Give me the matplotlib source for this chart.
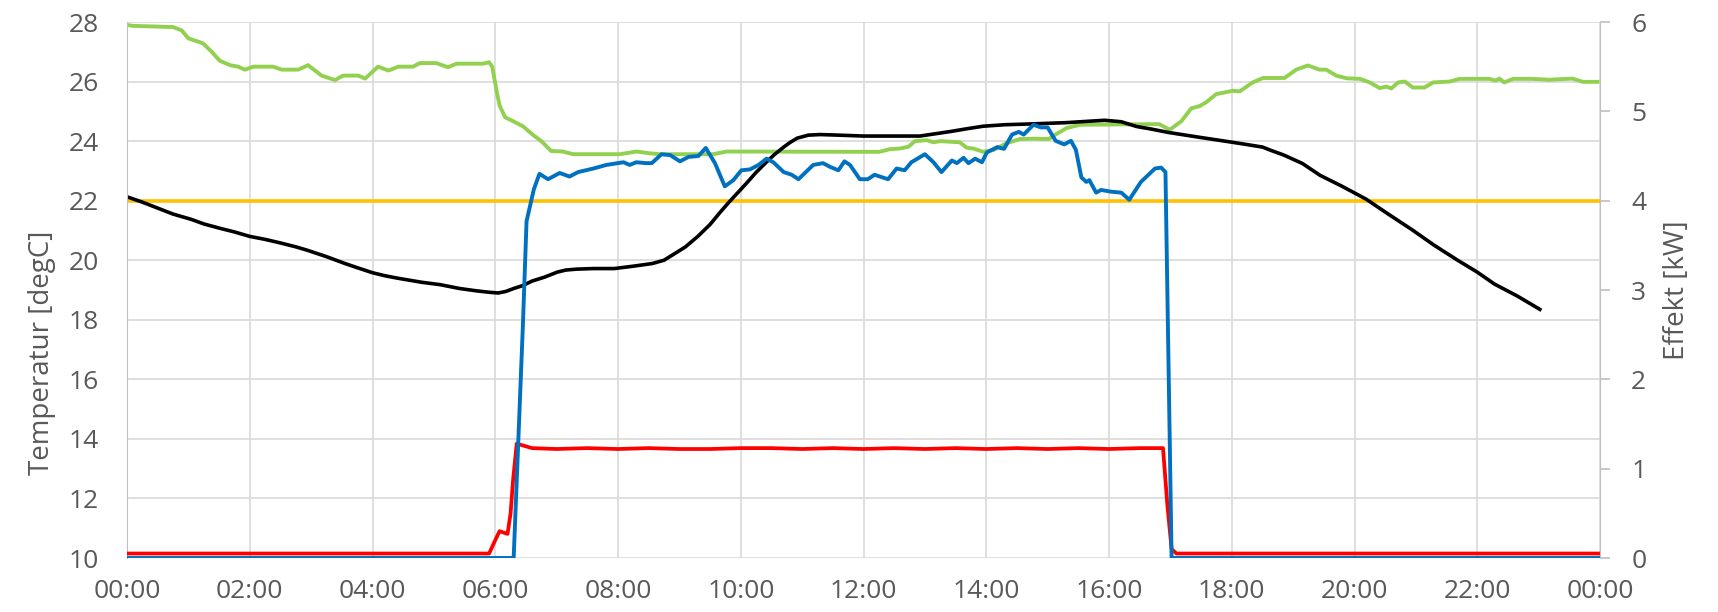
import matplotlib
matplotlib.use('Agg')
import matplotlib.pyplot as plt

plt.rcParams['font.family'] = ['Open Sans', 'DejaVu Sans']

# ---------------------------------------------------------------------------
# Data (hours of the day)
# ---------------------------------------------------------------------------
x_ticks = [0, 2, 4, 6, 8, 10, 12, 14, 16, 18, 20, 22, 24]
x_labels = ['00:00', '02:00', '04:00', '06:00', '08:00', '10:00', '12:00',
            '14:00', '16:00', '18:00', '20:00', '22:00', '00:00']

# green temperature [degC]
green_h = [0, 0.1, 0.75, 0.89, 1.0, 1.19, 1.24, 1.38, 1.51, 1.68, 1.81, 1.92, 2.06,
           2.38, 2.52, 2.79, 2.95, 3.17, 3.39, 3.52, 3.77, 3.88, 4.09, 4.26, 4.42,
           4.66, 4.77, 5.04, 5.23, 5.37, 5.8, 5.9, 5.95, 6.03, 6.07, 6.16, 6.29,
           6.45, 6.62, 6.75, 6.91, 7.1, 7.27, 8.03, 8.3, 8.52, 8.68, 9.55, 9.77,
           12.26, 12.43, 12.59, 12.73, 12.84, 13.03, 13.14, 13.25, 13.57, 13.68,
           13.79, 13.95, 14.12, 14.33, 14.55, 14.77, 15.02, 15.12, 15.31, 15.53,
           16.82, 16.99, 17.18, 17.34, 17.48, 17.58, 17.75, 18.02, 18.13, 18.34,
           18.51, 18.86, 19.05, 19.24, 19.43, 19.54, 19.7, 19.87, 20.09, 20.25,
           20.41, 20.52, 20.6, 20.71, 20.82, 20.95, 21.14, 21.28, 21.55, 21.71,
           22.2, 22.3, 22.36, 22.44, 22.58, 22.9, 23.17, 23.55, 23.72, 23.96]
green_t = [27.9, 27.87, 27.83, 27.72, 27.45, 27.32, 27.28, 27.0, 26.7, 26.55, 26.5, 26.4, 26.5,
           26.5, 26.4, 26.4, 26.55, 26.2, 26.05, 26.2, 26.2, 26.1, 26.5, 26.37, 26.5,
           26.5, 26.62, 26.62, 26.48, 26.6, 26.6, 26.65, 26.5, 25.6, 25.2, 24.8, 24.67,
           24.5, 24.2, 24.0, 23.67, 23.65, 23.56, 23.56, 23.65, 23.59, 23.56, 23.56, 23.65,
           23.64, 23.73, 23.75, 23.81, 24.0, 24.03, 23.96, 24.0, 23.96, 23.78,
           23.75, 23.64, 23.7, 23.93, 24.07, 24.08, 24.07, 24.21, 24.44, 24.55,
           24.57, 24.38, 24.67, 25.1, 25.18, 25.3, 25.58, 25.69, 25.67, 25.97,
           26.12, 26.12, 26.4, 26.54, 26.4, 26.4, 26.2, 26.11, 26.09, 25.97,
           25.78, 25.83, 25.77, 25.97, 26.0, 25.8, 25.8, 25.97, 26.0, 26.09,
           26.09, 26.03, 26.1, 25.97, 26.09, 26.09, 26.06, 26.1, 25.99, 25.99]

# black temperature [degC]
black_h = [0, 0.25, 0.5, 0.75, 1.05, 1.25, 1.5, 1.75, 2.0, 2.25, 2.5, 2.75, 2.93,
           3.25, 3.55, 3.75, 4.0, 4.2, 4.4, 4.6, 4.8, 5.1, 5.42, 5.7, 5.92, 6.05,
           6.17, 6.3, 6.45, 6.6, 6.8, 7.01, 7.15, 7.32, 7.6, 7.94, 8.25, 8.56,
           8.75, 8.93, 9.1, 9.3, 9.5, 9.66, 9.8, 10.1, 10.25, 10.42, 10.55, 10.7,
           10.8, 10.92, 11.1, 11.29, 11.6, 12.0, 12.5, 12.92, 13.41, 13.7, 13.95,
           14.3, 14.77, 15.3, 15.93, 16.2, 16.45, 16.7, 16.97, 17.5, 17.95, 18.2,
           18.5, 18.65, 18.85, 19.15, 19.44, 19.8, 20.19, 20.55, 20.94, 21.3,
           21.68, 22.0, 22.28, 22.65, 23.02]
black_t = [22.13, 21.95, 21.75, 21.55, 21.37, 21.22, 21.08, 20.95, 20.8, 20.7, 20.58, 20.45, 20.34,
           20.12, 19.89, 19.75, 19.58, 19.48, 19.4, 19.33, 19.26, 19.18, 19.05, 18.97, 18.92, 18.9,
           18.95, 19.05, 19.15, 19.3, 19.43, 19.6, 19.67, 19.7, 19.72, 19.72, 19.8, 19.89,
           20.0, 20.23, 20.45, 20.8, 21.2, 21.6, 21.93, 22.6, 22.95, 23.3, 23.55, 23.8,
           23.95, 24.1, 24.2, 24.22, 24.2, 24.17, 24.17, 24.17, 24.32, 24.42, 24.5,
           24.55, 24.58, 24.62, 24.7, 24.65, 24.49, 24.4, 24.29, 24.12, 23.98, 23.9,
           23.8, 23.68, 23.53, 23.25, 22.85, 22.48, 22.05, 21.55, 21.02, 20.5,
           20.0, 19.6, 19.2, 18.8, 18.35]

# yellow set point [degC]
setp_h = [0, 24]
setp_t = [22, 22]

# blue power [kW]
blue_h = [0, 6.3, 6.45, 6.51, 6.63, 6.72, 6.86, 7.05, 7.21, 7.35, 7.6, 7.81, 8.09,
          8.19, 8.3, 8.46, 8.55, 8.71, 8.85, 9.01, 9.15, 9.31, 9.43, 9.58, 9.74,
          9.88, 10.01, 10.15, 10.29, 10.42, 10.53, 10.7, 10.83, 10.94, 11.18, 11.34,
          11.45, 11.59, 11.69, 11.78, 11.94, 12.07, 12.18, 12.4, 12.54, 12.67, 12.78,
          13.0, 13.14, 13.27, 13.44, 13.52, 13.63, 13.71, 13.82, 13.93, 14.01, 14.18,
          14.29, 14.42, 14.53, 14.61, 14.77, 14.89, 15.0, 15.13, 15.27, 15.38, 15.46,
          15.55, 15.63, 15.68, 15.79, 15.87, 16.04, 16.2, 16.33, 16.52, 16.75, 16.85,
          16.92, 17.02, 24]
blue_kw = [0, 0, 2.6, 3.77, 4.13, 4.3, 4.24, 4.31, 4.27, 4.32, 4.36, 4.4, 4.43,
           4.4, 4.43, 4.42, 4.42, 4.52, 4.51, 4.44, 4.49, 4.5, 4.59, 4.42, 4.16,
           4.23, 4.34, 4.35, 4.4, 4.47, 4.43, 4.32, 4.29, 4.24, 4.4, 4.42,
           4.38, 4.34, 4.44, 4.4, 4.24, 4.24, 4.29, 4.24, 4.36, 4.34, 4.43,
           4.52, 4.43, 4.32, 4.45, 4.42, 4.48, 4.42, 4.47, 4.43, 4.54, 4.6,
           4.58, 4.74, 4.77, 4.74, 4.85, 4.82, 4.82, 4.67, 4.63, 4.67, 4.57,
           4.26, 4.21, 4.23, 4.09, 4.12, 4.1, 4.09, 4.01, 4.21, 4.36, 4.37,
           4.32, 0, 0]

# red power [kW]
red_h = [0, 5.9, 6.0, 6.07, 6.2, 6.25, 6.29, 6.35, 6.45, 6.6, 7.0, 7.5, 8.0, 8.5,
         9.0, 9.5, 10.0, 10.5, 11.0, 11.5, 12.0, 12.5, 13.0, 13.5, 14.0, 14.5,
         15.0, 15.5, 16.0, 16.5, 16.88, 16.95, 17.02, 17.1, 24]
red_kw = [0.05, 0.05, 0.2, 0.3, 0.27, 0.5, 0.87, 1.28, 1.26, 1.23, 1.22, 1.23, 1.22, 1.23,
          1.22, 1.22, 1.23, 1.23, 1.22, 1.23, 1.22, 1.23, 1.22, 1.23, 1.22, 1.23,
          1.22, 1.23, 1.22, 1.23, 1.23, 0.6, 0.1, 0.05, 0.05]

# ---------------------------------------------------------------------------
# Plot
# ---------------------------------------------------------------------------
grey = '#595959'
fs = 19
fig, ax = plt.subplots(figsize=(17.18, 6.12), dpi=100)
fig.subplots_adjust(left=127 / 1718, right=1600 / 1718, top=1 - 22 / 612, bottom=1 - 558 / 612)

ax.plot(setp_h, setp_t, color='#FFC000', lw=2.6, solid_capstyle='round')
ax.plot(green_h, green_t, color='#92D050', lw=2.8, solid_joinstyle='round')
ax.plot(black_h, black_t, color='black', lw=2.6, solid_joinstyle='round')

ax.set_xlim(0, 24)
ax.set_ylim(10, 28)
ax.set_xticks(x_ticks)
ax.set_xticklabels(x_labels)
ax.set_yticks(range(10, 29, 2))
ax.grid(True, color='#D9D9D9', lw=1.2)
ax.set_axisbelow(True)
ax.tick_params(axis='both', length=0, labelsize=fs, colors=grey)
ax.tick_params(axis='x', pad=15)
ax.tick_params(axis='y', pad=20)
ax.set_ylabel('Temperatur [degC]', fontsize=20, color=grey, va='center')
ax.yaxis.set_label_coords(-0.0577, 0.382)
for side in ['top', 'bottom']:
    ax.spines[side].set_visible(False)
ax.spines['left'].set_color('#BFBFBF')
ax.spines['right'].set_visible(False)

ax2 = ax.twinx()
ax2.plot(red_h, red_kw, color='#FF0000', lw=2.7, solid_joinstyle='round')
ax2.plot(blue_h, blue_kw, color='#0070C0', lw=2.8, solid_joinstyle='round')
ax2.set_ylim(0, 6)
ax2.set_yticks(range(0, 7))
ax2.tick_params(axis='y', length=7.5, width=1.2, color='#BFBFBF', labelsize=fs,
                labelcolor=grey, pad=15)
ax2.set_ylabel('Effekt [kW]', fontsize=20, color=grey, va='center')
ax2.yaxis.set_label_coords(1.0521, 0.5)
for side in ['top', 'bottom', 'left']:
    ax2.spines[side].set_visible(False)
ax2.spines['right'].set_color('#BFBFBF')

fig.savefig('out.png', dpi=100)
